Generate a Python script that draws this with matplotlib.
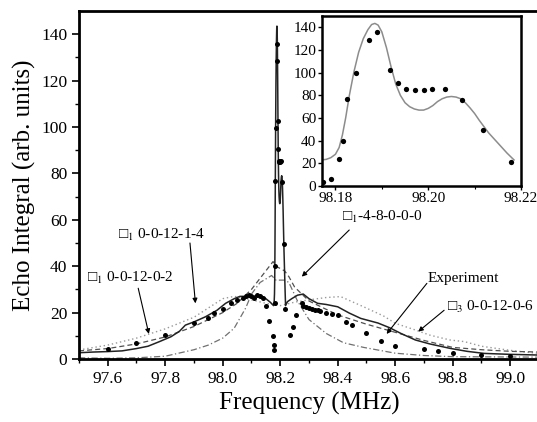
import matplotlib
matplotlib.use("Agg")
import matplotlib.pyplot as plt
import numpy as np

plt.rcParams['font.family'] = ['Liberation Serif', 'DejaVu Serif']
plt.rcParams['mathtext.fontset'] = 'stix'

# ---- main spectrum (MHz, arb. units) ----
# solid trace, left and right wings (the narrow centre comes from the zoom trace)
solid_left_f = [97.50, 97.55, 97.60, 97.65, 97.70, 97.74, 97.78, 97.82, 97.85, 97.87,
                97.90, 97.94, 97.98, 98.01, 98.04, 98.06, 98.10, 98.13, 98.15, 98.165]
solid_left_v = [2.7, 3.0, 3.2, 3.5, 4.5, 5.5, 7.5, 9.6, 12.0, 14.6,
                16.0, 18.2, 21.0, 24.0, 26.0, 27.0, 27.0, 27.5, 26.0, 24.5]
solid_right_f = [98.225, 98.24, 98.26, 98.28, 98.30, 98.33, 98.36, 98.40, 98.44, 98.48,
                 98.54, 98.58, 98.62, 98.67, 98.72, 98.79, 98.85, 98.91, 99.00, 99.10]
solid_right_v = [24.7, 26.0, 27.5, 28.0, 26.0, 24.0, 23.5, 22.5, 19.8, 17.5,
                 15.5, 13.5, 11.0, 8.2, 6.5, 4.6, 3.3, 2.4, 2.0, 1.7]

# broad dotted trace (0-0-12-1-4)
dot_f = [97.50, 97.60, 97.70, 97.80, 97.90, 97.95, 98.00, 98.04, 98.10, 98.15, 98.20,
         98.25, 98.30, 98.36, 98.41, 98.49, 98.56, 98.60, 98.67, 98.72, 98.79, 98.84,
         98.90, 98.95, 99.02, 99.10]
dot_v = [3.9, 6.0, 9.0, 13.0, 18.0, 22.0, 26.0, 27.0, 25.5, 24.0, 23.0,
         24.5, 25.5, 26.5, 26.9, 22.5, 18.5, 15.4, 12.5, 10.3, 8.2, 7.5,
         5.5, 4.6, 3.4, 2.4]

# dashed trace (0-0-12-0-2 / 0-0-12-0-6)
dash_f = [97.50, 97.60, 97.70, 97.80, 97.90, 98.00, 98.05, 98.10, 98.15, 98.175,
          98.185, 98.215, 98.23, 98.25, 98.30, 98.35, 98.40, 98.50, 98.60, 98.70,
          98.80, 98.90, 99.00, 99.10]
dash_v = [3.5, 4.5, 6.5, 9.5, 14.0, 20.0, 24.0, 30.0, 38.0, 42.0,
          40.0, 38.0, 35.5, 31.0, 25.0, 22.0, 19.0, 15.0, 11.5, 8.0,
          5.0, 4.0, 3.3, 3.0]

# dash-dot trace (-4-8-0-0-0)
dd_f = [97.50, 97.60, 97.70, 97.80, 97.90, 97.95, 98.00, 98.04, 98.08, 98.10,
        98.13, 98.17, 98.185, 98.215, 98.23, 98.26, 98.30, 98.36, 98.42, 98.49,
        98.60, 98.70, 98.80, 99.10]
dd_v = [0.5, 0.3, 0.5, 1.2, 4.0, 6.0, 9.0, 13.3, 22.0, 28.0,
        33.0, 36.0, 34.0, 34.0, 33.0, 25.0, 17.0, 11.0, 7.0, 5.0,
        2.5, 1.5, 1.0, 0.8]

# measured points outside the zoom window
pts_left_f = [97.60, 97.70, 97.80, 97.90, 97.95, 97.97, 98.00, 98.03, 98.05, 98.07,
              98.08, 98.09, 98.10, 98.11, 98.12, 98.13, 98.14, 98.15, 98.162, 98.174]
pts_left_v = [4.5, 6.8, 10.3, 15.4, 17.5, 20.0, 21.4, 24.0, 25.5, 26.5,
              27.0, 27.5, 27.0, 26.5, 27.5, 27.0, 26.5, 22.8, 16.5, 9.9]
pts_right_f = [98.234, 98.243, 98.254, 98.275, 98.28, 98.29, 98.30, 98.31, 98.32, 98.33,
               98.34, 98.36, 98.38, 98.40, 98.43, 98.45, 98.50, 98.55, 98.60, 98.70,
               98.75, 98.80, 98.90, 99.00]
pts_right_v = [10.3, 13.9, 19.0, 24.0, 23.0, 22.5, 22.0, 21.5, 21.0, 21.0,
               20.5, 20.0, 19.5, 19.0, 16.0, 14.7, 11.0, 7.8, 5.6, 4.2,
               3.4, 2.7, 1.7, 1.3]

# ---- zoom on the central line ----
zoom_pts_f = [98.1773, 98.1790, 98.1808, 98.1817, 98.1826, 98.1844, 98.1872, 98.1890,
              98.1917, 98.1935, 98.1953, 98.1972, 98.1990, 98.2008, 98.2036, 98.2072,
              98.2118, 98.2178]
zoom_pts_v = [3.8, 6.0, 24.0, 40.0, 76.6, 99.7, 128.5, 135.6,
              102.4, 90.7, 85.4, 84.8, 85.0, 85.4, 85.4, 76.3,
              49.6, 21.4]
zoom_line_f = [98.1770, 98.1780, 98.1790, 98.1800, 98.1808, 98.1815, 98.1822, 98.1830,
               98.1840, 98.1850, 98.1860, 98.1870, 98.1878, 98.1885, 98.1892, 98.1900,
               98.1910, 98.1920, 98.1930, 98.1940, 98.1950, 98.1960, 98.1970, 98.1980,
               98.1990, 98.2000, 98.2010, 98.2020, 98.2030, 98.2040, 98.2050, 98.2060,
               98.2070, 98.2080, 98.2090, 98.2100, 98.2110, 98.2120, 98.2130, 98.2140,
               98.2150, 98.2160, 98.2170, 98.2180, 98.2185]
zoom_line_v = [23.0, 23.5, 25.0, 28.0, 34.0, 45.0, 60.0, 80.0,
               101.0, 118.0, 130.0, 138.0, 142.5, 143.5, 142.0, 136.0,
               122.0, 105.0, 90.0, 80.0, 73.5, 70.0, 68.0, 67.0,
               67.0, 68.5, 71.0, 74.5, 77.0, 78.5, 79.0, 78.5,
               77.0, 73.5, 69.0, 64.0, 58.0, 52.5, 47.0, 42.5,
               38.0, 33.5, 29.0, 25.0, 23.0]

solid_f = solid_left_f + zoom_line_f + solid_right_f
solid_v = solid_left_v + zoom_line_v + solid_right_v
pts_f = pts_left_f + zoom_pts_f + pts_right_f
pts_v = pts_left_v + zoom_pts_v + pts_right_v

fig = plt.figure(figsize=(5.37, 4.22), dpi=100)
ax = fig.add_axes([0.1471, 0.1493, 0.8566, 0.8246])

ax.plot(dot_f, dot_v, ls=(0, (1, 2)), color='#999999', lw=1.0)
ax.plot(dd_f, dd_v, ls=(0, (5, 2, 1, 2)), color='#707070', lw=0.9)
ax.plot(dash_f, dash_v, ls=(0, (4, 2.5)), color='#505050', lw=0.9)
ax.plot(solid_f, solid_v, color='#222222', lw=1.1)
ax.plot(pts_f, pts_v, 'o', color='black', ms=3.6, mew=0)

ax.set_xlim(97.5, 99.1)
ax.set_ylim(0, 150)
ax.set_xticks(np.arange(97.6, 99.05, 0.2))
ax.set_xticks(np.arange(97.5, 99.1, 0.1), minor=True)
ax.set_yticks(np.arange(0, 141, 20))
ax.set_yticks(np.arange(0, 150, 10), minor=True)
ax.tick_params(which='major', direction='out', length=5, width=1.2, labelsize=12.5)
ax.tick_params(which='minor', direction='out', length=3, width=1.0)
for s in ax.spines.values():
    s.set_linewidth(2.0)
ax.set_xlabel('Frequency (MHz)', fontsize=18, labelpad=4)
ax.set_ylabel('Echo Integral (arb. units)', fontsize=18, labelpad=4)

box = '\u25a1'
arrow = dict(arrowstyle='-|>', color='black', lw=0.8, mutation_scale=7, shrinkA=0, shrinkB=0)
labels = [
    (box + '$_1$ 0-0-12-1-4', (97.636, 53.4), (97.886, 50.0), (97.905, 24.0)),
    (box + '$_1$ 0-0-12-0-2', (97.527, 34.8), (97.706, 30.5), (97.743, 10.8)),
    (box + '$_1$-4-8-0-0-0', (98.415, 61.3), (98.44, 55.6), (98.275, 35.5)),
    ('Experiment', (98.714, 34.8), (98.71, 32.6), (98.57, 10.8)),
    (box + '$_3$ 0-0-12-0-6', (98.78, 22.5), (98.77, 21.0), (98.68, 11.8)),
]
for text, pos, tail, tip in labels:
    ax.text(pos[0], pos[1], text, fontsize=11, ha='left', va='center')
    ax.annotate('', xy=tip, xytext=tail, arrowprops=arrow)

# inset: the central line on a fine frequency scale
axi = fig.add_axes([0.5996, 0.5592, 0.3706, 0.4028])
axi.set_zorder(5)
axi.plot(zoom_line_f, zoom_line_v, color='#8c8c8c', lw=1.1)
axi.plot(zoom_pts_f, zoom_pts_v, 'o', color='black', ms=3.8, mew=0)
axi.set_xlim(98.1771, 98.2185)
axi.set_ylim(0, 150)
axi.set_xticks([98.18, 98.20, 98.22])
axi.set_xticklabels(['98.18', '98.20', '98.22'])
axi.set_xticks([98.19, 98.21], minor=True)
axi.set_yticks(np.arange(0, 141, 20))
axi.set_yticklabels([str(v) for v in range(0, 141, 20)])
axi.tick_params(which='major', direction='out', length=3, width=1.0, labelsize=11, pad=1,
                left=True, labelleft=True, bottom=True, labelbottom=True)
axi.tick_params(which='minor', direction='out', length=2, width=0.8)
for s in axi.spines.values():
    s.set_linewidth(1.8)

fig.savefig('out.png', dpi=100)
